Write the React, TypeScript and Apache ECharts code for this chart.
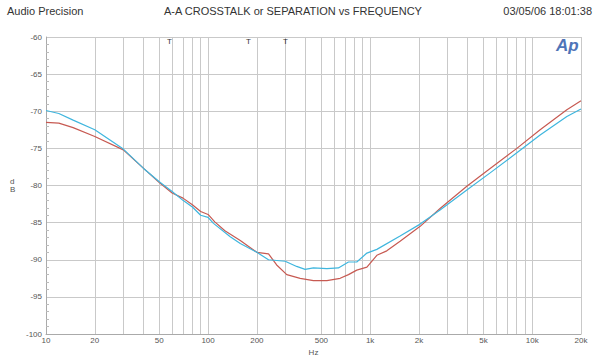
import React, { useEffect, useRef } from "react";
import * as echarts from "echarts";

// Frequency (Hz) and separation (dB) for each channel
const freqRed = [10, 12, 14.7, 20, 30, 40, 50, 60, 70, 80, 90, 100, 110, 127, 158, 200, 236, 265, 306, 370, 447, 541, 653, 735, 827, 955, 1100, 1267, 1530, 2035, 2700, 3950, 5500, 8040, 11190, 16360, 20000];
const dbRed = [-71.5, -71.6, -72.2, -73.4, -75.2, -77.7, -79.6, -81.0, -81.7, -82.6, -83.5, -83.9, -84.9, -86.1, -87.4, -89.0, -89.2, -90.7, -92.0, -92.5, -92.8, -92.8, -92.5, -92.0, -91.4, -91.0, -89.4, -88.8, -87.5, -85.5, -83.1, -80.1, -77.7, -75.0, -72.5, -69.8, -68.6];

const freqBlue = [10, 12, 14.7, 20, 30, 40, 50, 60, 70, 80, 90, 100, 108, 137, 158, 200, 236, 299, 352, 397, 447, 541, 637, 735, 827, 955, 1100, 1530, 2035, 2700, 3950, 5500, 8040, 11190, 16360, 20000];
const dbBlue = [-69.9, -70.3, -71.2, -72.5, -75.1, -77.7, -79.5, -80.8, -82.0, -82.9, -84.0, -84.3, -85.1, -86.9, -87.8, -89.0, -90.0, -90.2, -90.9, -91.3, -91.1, -91.2, -91.1, -90.3, -90.3, -89.1, -88.6, -86.8, -85.2, -83.3, -80.6, -78.3, -75.6, -73.2, -70.7, -69.7];

const xLabelValues = [10, 20, 50, 100, 200, 500, 1000, 2000, 5000, 10000, 20000];
const xGridValues = [10, 20, 30, 40, 50, 60, 70, 80, 90, 100, 200, 300, 400, 500, 600, 700, 800, 900, 1000, 2000, 3000, 4000, 5000, 6000, 7000, 8000, 9000, 10000, 20000];

const titleLeft = "Audio Precision";
const titleCenter = "A-A CROSSTALK or SEPARATION vs FREQUENCY";
const titleRight = "03/05/06 18:01:38";
const yUnitLabel = "d\nB";
const markerLabels = ["T", "T", "T"];

const FONT = "'Liberation Sans', Arial, sans-serif";

function fmtHz(v: number): string {
  const r = Math.round(v);
  if (r >= 1000) return Math.round(r / 1000) + "k";
  return String(r);
}

export default function App() {
  const ref = useRef<HTMLDivElement>(null);
  useEffect(() => {
    if (!ref.current) return;
    const chart = echarts.init(ref.current, null, { renderer: "svg" });
    const gridColor = "#c9c9c9";
    chart.setOption({
      animation: false,
      backgroundColor: "#ffffff",
      grid: { left: 46, right: 19, top: 37, bottom: 28 },
      xAxis: {
        type: "log",
        logBase: 10,
        min: 10,
        max: 20000,
        name: "Hz",
        nameLocation: "middle",
        nameGap: 14,
        nameTextStyle: { fontFamily: FONT, fontSize: 8, color: "#555" },
        axisLine: { show: true, lineStyle: { color: "#aaa", width: 1 } },
        axisTick: { show: false, customValues: xGridValues },
        axisLabel: {
          customValues: xLabelValues,
          formatter: (v: number) => fmtHz(v),
          fontFamily: FONT,
          fontSize: 8,
          color: "#555",
          margin: 2,
          showMaxLabel: true,
          showMinLabel: true,
        },
        splitLine: { show: true, lineStyle: { color: gridColor, width: 1 } },
        minorTick: { show: false },
        minorSplitLine: { show: false },
      },
      yAxis: {
        type: "value",
        min: -100,
        max: -60,
        interval: 5,
        axisLine: { show: true, lineStyle: { color: "#aaa", width: 1 } },
        axisTick: { show: false, inside: true },
        minorTick: { show: true, splitNumber: 5, length: 3, lineStyle: { color: "#bbb" } },
        axisLabel: { fontFamily: FONT, fontSize: 8, color: "#555", margin: 4 },
        splitLine: { show: true, lineStyle: { color: gridColor, width: 1 } },
      },
      series: [
        {
          type: "line",
          name: "Ch A",
          data: freqRed.map((f, i) => [f, dbRed[i]]),
          showSymbol: false,
          symbol: "none",
          lineStyle: { color: "#c75a52", width: 1.2 },
          z: 3,
        },
        {
          type: "line",
          name: "Ch B",
          data: freqBlue.map((f, i) => [f, dbBlue[i]]),
          showSymbol: false,
          symbol: "none",
          lineStyle: { color: "#3fb6de", width: 1.2 },
          z: 4,
        },
      ],
      graphic: [
        { type: "text", left: 7, top: 5, style: { text: titleLeft, font: `11px ${FONT}`, fill: "#333" } },
        { type: "text", left: 164, top: 5, style: { text: titleCenter, font: `11px ${FONT}`, fill: "#333" } },
        { type: "text", right: 8, top: 5, style: { text: titleRight, font: `11px ${FONT}`, fill: "#333" } },
        { type: "text", left: 556, top: 37, style: { text: "Ap", font: `italic bold 17px ${FONT}`, fill: "#4f74b8" } },
        { type: "text", left: 10, top: 177, style: { text: yUnitLabel, font: `8px ${FONT}`, fill: "#555", lineHeight: 8 } },
        { type: "text", left: 167, top: 37, z: 10, style: { text: markerLabels[0], font: `8px ${FONT}`, fill: "#333", stroke: "none" } },
        { type: "text", left: 246, top: 37, z: 10, style: { text: markerLabels[1], font: `8px ${FONT}`, fill: "#333", stroke: "none" } },
        { type: "text", left: 283, top: 37, z: 10, style: { text: markerLabels[2], font: `8px ${FONT}`, fill: "#333", stroke: "none" } },
      ],
    });
    return () => chart.dispose();
  }, []);
  return (
    <div
      ref={ref}
      style={{ position: "fixed", left: 0, top: 0, width: 600, height: 362, background: "#fff" }}
    />
  );
}
